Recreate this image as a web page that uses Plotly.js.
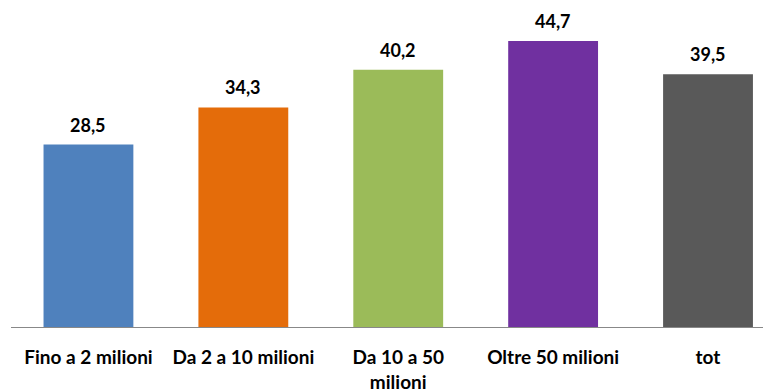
<!DOCTYPE html>
<html><head><meta charset="utf-8">
<script src="https://cdn.plot.ly/plotly-3.0.1.min.js"></script>
<style>body{margin:0;padding:0;background:#fff}#chart{width:763px;height:391px}</style>
</head><body><div id="chart"></div>
<script>
const categories = ["Fino a 2 milioni", "Da 2 a 10 milioni", "Da 10 a 50<br>milioni", "Oltre 50 milioni", "tot"];
const values = [28.5, 34.3, 40.2, 44.7, 39.5];
const labels = ["28,5", "34,3", "40,2", "44,7", "39,5"];
const colors = ["#4F81BD", "#E46C0A", "#9BBB59", "#7030A0", "#595959"];

const fnt = {family: "Lato, 'Open Sans', sans-serif", size: 18, color: "#000", weight: "bold"};
const tickFnt = {family: "Lato, 'Open Sans', sans-serif", size: 19, color: "#000", weight: "bold"};
const trace = {
  type: "bar",
  x: categories,
  y: values,
  marker: {color: colors},
  hoverinfo: "none"
};
const annotations = categories.map((c, i) => ({
  x: c, y: values[i], xref: "x", yref: "y",
  text: labels[i], showarrow: false,
  yanchor: "bottom", yshift: 7,
  font: fnt
}));
const layout = {
  width: 763, height: 391,
  margin: {l: 10.5, r: 0, t: 7, b: 64},
  paper_bgcolor: "#fff", plot_bgcolor: "#fff",
  showlegend: false,
  bargap: 0.42,
  annotations: annotations,
  xaxis: {
    type: "category",
    range: [-0.5, 4.355],
    showline: true, linecolor: "#888", linewidth: 1,
    ticks: "", showgrid: false, zeroline: false,
    tickfont: tickFnt,
    ticklabelstandoff: 13
  },
  yaxis: {range: [0, 50], visible: false, showgrid: false, zeroline: false},
  font: {family: "Lato, sans-serif"}
};
Plotly.newPlot("chart", [trace], layout, {staticPlot: true, displayModeBar: false});
</script></body></html>
